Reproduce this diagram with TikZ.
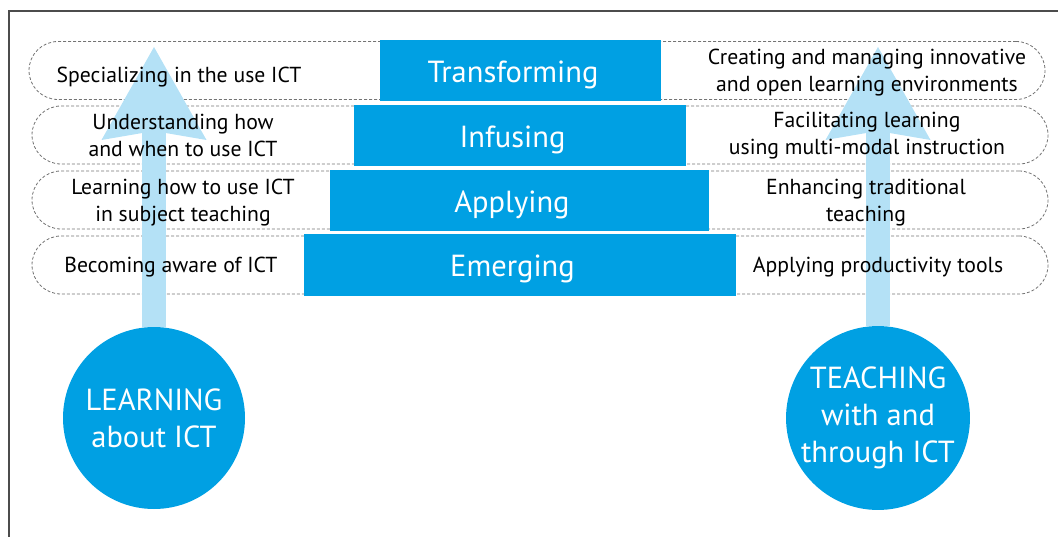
\documentclass[tikz,border=0pt]{standalone}
\usepackage{fontspec}
\setmainfont{PT Sans}
\usetikzlibrary{arrows.meta}

\definecolor{ictblue}{RGB}{0,160,227}
\definecolor{ictlight}{RGB}{180,225,246}

\tikzset{
	pill/.style={draw=black!55, line width=0.8pt, dash pattern=on 3pt off 2pt, rounded corners=29pt, minimum width=1016pt, minimum height=58pt},
	stepbar/.style={fill=ictblue, inner sep=0pt},
	steptext/.style={text=white, inner sep=0pt, text height=24pt, text depth=0pt, xshift=-7.5pt, font=\fontsize{30.5}{36}\selectfont},
	pilltext/.style={anchor=base, align=center, inner sep=0pt, font=\fontsize{21.7}{27}\selectfont},
	roundbox/.style={circle, fill=ictblue, text=white, inner sep=0pt, minimum size=182pt, align=center, font=\fontsize{30.5}{37}\selectfont},
	growarrow/.style={draw=ictlight, line width=24pt, -{Stealth[length=93pt, width=105pt, inset=9pt, line width=0pt]}}
}

\begin{document}
\begin{tikzpicture}[x=1pt, y=-1pt]
			%%%%% FRAME %%%%%
			\useasboundingbox (0,0) rectangle (1058,537);
			\draw[black!70, line width=1.5pt] (9,537) -- (9,11) -- (1058,11);
			
			%%%%% ROWS %%%%%
			\node[pill] (row1) at (537,70.5) {};
			\node[pill] (row2) at (540,135) {};
			\node[pill] (row3) at (540,200) {};
			\node[pill] (row4) at (540,265) {};
			
			%%%%% STEPS %%%%%
			\node[stepbar, minimum width=281pt, minimum height=61pt, label={[steptext]center:Transforming}] (transforming) at (520.5,70.5) {};
			\node[stepbar, minimum width=332pt, minimum height=61pt, label={[steptext]center:Infusing}] (infusing) at (520,135.5) {};
			\node[stepbar, minimum width=379pt, minimum height=61pt, label={[steptext]center:Applying}] (applying) at (519.5,200.5) {};
			\node[stepbar, minimum width=432pt, minimum height=62pt, label={[steptext]center:Emerging}] (emerging) at (520,265) {};
			
			%%%%% CIRCLES AND ARROWS %%%%%
			\node[roundbox] (learn) at (154,418) {LEARNING\\about ICT};
			\node[roundbox] (teach) at (878,418) {TEACHING\\with and\\through ICT};
			
			\coordinate (learntip) at (154,47);
			\coordinate (teachtip) at (878,47);
			\draw[growarrow] (learn.north) -- (learntip);
			\draw[growarrow] (teach.north) -- (teachtip);
			
			%%%%% LEFT TEXTS %%%%%
			\node[pilltext] (special) at (179,83) {Specializing in the use ICT};
			\node[pilltext] (understand) at (183,157) {Understanding how\\and when to use ICT};
			\node[pilltext] (learnhow) at (183,222) {Learning how to use ICT\\in subject teaching};
			\node[pilltext] (aware) at (171,273) {Becoming aware of ICT};
			
			%%%%% RIGHT TEXTS %%%%%
			\node[pilltext] (create) at (867,92) {Creating and managing innovative\\and open learning environments};
			\node[pilltext] (facilitate) at (867,155) {Facilitating learning\\using multi-modal instruction};
			\node[pilltext] (enhance) at (866,222) {Enhancing traditional\\teaching};
			\node[pilltext] (produce) at (878,273) {Applying productivity tools};
			
			%%%%% END %%%%%
\end{tikzpicture}
\end{document}
